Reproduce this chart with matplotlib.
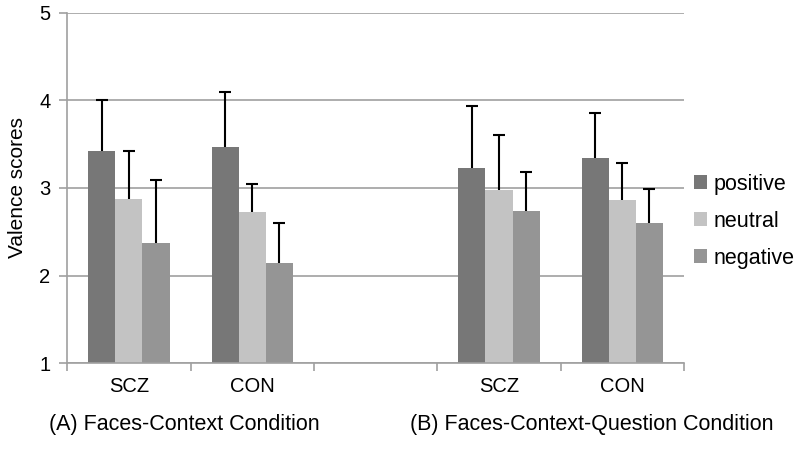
import numpy as np
import matplotlib.pyplot as plt
from matplotlib.ticker import FixedLocator, NullFormatter

plt.rcParams['font.family'] = ['Liberation Sans', 'DejaVu Sans']

# five slots on the x axis: two groups of SCZ/CON with an empty slot between
categories = ['SCZ', 'CON', '', 'SCZ', 'CON']
series = ['positive', 'neutral', 'negative']
positive = [3.42, 3.47, np.nan, 3.23, 3.34]
neutral = [2.87, 2.73, np.nan, 2.98, 2.86]
negative = [2.37, 2.14, np.nan, 2.74, 2.60]
positive_err = [0.58, 0.62, 0, 0.70, 0.52]
neutral_err = [0.55, 0.31, 0, 0.62, 0.42]
negative_err = [0.72, 0.46, 0, 0.44, 0.39]
group_labels = ['(A) Faces-Context Condition', '(B) Faces-Context-Question Condition']

colors = ['#777777', '#c3c3c3', '#959595']
grid_col = '#a0a0a0'

fig = plt.figure(figsize=(8, 4.5), dpi=100)
ax = fig.add_axes([0.084, 0.193, 0.771, 0.779])

x = np.arange(len(categories))
w = 0.22
vals = [positive, neutral, negative]
errs = [positive_err, neutral_err, negative_err]
for i, (v, e, c, name) in enumerate(zip(vals, errs, colors, series)):
    v = np.array(v)
    e = np.array(e)
    ax.bar(x + (i - 1) * w, v - 1, bottom=1, width=w, color=c, label=name, zorder=2)
    eb = ax.errorbar(x + (i - 1) * w, v, yerr=[np.zeros_like(e), e], fmt='none',
                     ecolor='black', elinewidth=1.5, capsize=4.5, capthick=1.5, zorder=3)
    # only the upper cap is shown
    eb[1][0].set_visible(False)

ax.set_xlim(-0.5, len(categories) - 0.5)
ax.set_ylim(1, 5)
ax.set_yticks([1, 2, 3, 4, 5])
ax.yaxis.grid(True, color=grid_col, linewidth=1.2, zorder=0)
ax.set_axisbelow(True)

# category labels centred, tick marks on the boundaries
ax.xaxis.set_major_locator(FixedLocator(np.arange(-0.5, len(categories), 1)))
ax.xaxis.set_major_formatter(NullFormatter())
ax.xaxis.set_minor_locator(FixedLocator(x))
ax.set_xticklabels(categories, minor=True)
ax.tick_params(axis='x', which='minor', length=0, pad=10, labelsize=14.5)
ax.tick_params(axis='x', which='major', length=6, color=grid_col, width=1.2)
ax.tick_params(axis='y', length=6, color=grid_col, width=1.2, labelsize=14.5, pad=6)

for s in ['top', 'right']:
    ax.spines[s].set_visible(False)
for s in ['left', 'bottom']:
    ax.spines[s].set_color(grid_col)
    ax.spines[s].set_linewidth(1.2)

ax.set_ylabel('Valence scores', fontsize=15, labelpad=9)

ax.legend(loc='center left', bbox_to_anchor=(0.995, 0.405), frameon=False, fontsize=15.5,
          handlelength=0.6, handleheight=0.6, handletextpad=0.3, labelspacing=0.75,
          borderaxespad=0.2)

fig.text(0.231, 0.056, group_labels[0], ha='center', va='center', fontsize=15.5)
fig.text(0.74, 0.056, group_labels[1], ha='center', va='center', fontsize=15.5)

fig.savefig('out.png', dpi=100)
